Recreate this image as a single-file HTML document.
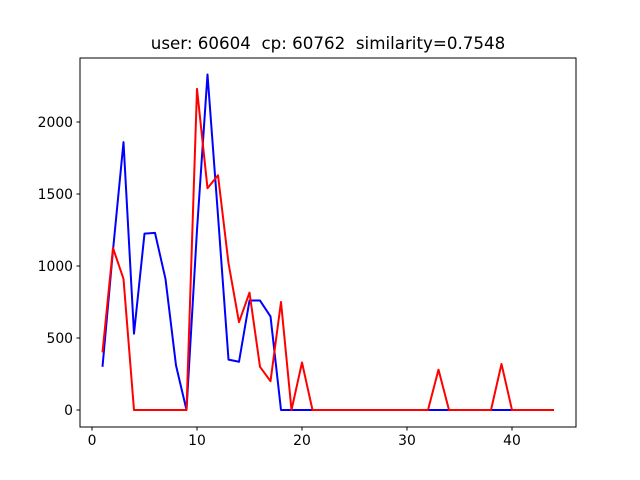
<!DOCTYPE html>
<html><head><meta charset="utf-8"><style>
html,body{margin:0;padding:0;background:#fff;}
svg{display:block;font-family:"DejaVu Sans","Liberation Sans",sans-serif;}
svg text{white-space:pre;}
</style></head><body>
<svg id="chart" width="640" height="480"></svg>
<script>
const xValues = [1,2,3,4,5,6,7,8,9,10,11,12,13,14,15,16,17,18,19,20,21,22,23,24,25,26,27,28,29,30,31,32,33,34,35,36,37,38,39,40,41,42,43,44];
const userSeries = [300,1110,1860,530,1225,1230,910,310,0,1250,2330,1350,350,335,760,760,650,0,0,0,0,0,0,0,0,0,0,0,0,0,0,0,0,0,0,0,0,0,0,0,0,0,0,0];
const cpSeries = [400,1125,910,0,0,0,0,0,0,2230,1540,1630,1020,610,815,300,200,750,0,330,0,0,0,0,0,0,0,0,0,0,0,0,280,0,0,0,0,0,320,0,0,0,0,0];
const xTicks = [0,10,20,30,40];
const yTicks = [0,500,1000,1500,2000];
const titleText = "user: 60604  cp: 60762  similarity=0.7548";

const NS = "http://www.w3.org/2000/svg";
const svg = document.getElementById('chart');
const L=80,R=576,T=58,B=427;
function xs(v){return 92 + v*10.5;}
function ys(v){return 410 - v*0.144;}
function mk(tag, attrs){const e=document.createElementNS(NS,tag);for(const k in attrs)e.setAttribute(k,attrs[k]);svg.appendChild(e);return e;}

function line(series, color, name){
  const p = mk('polyline',{points:series.map((v,i)=>xs(xValues[i])+','+ys(v)).join(' '),fill:'none',stroke:color,'stroke-width':2,'stroke-linejoin':'round'});
  
  
}
line(userSeries,'#0000ff','user-series-line');
line(cpSeries,'#ff0000','cp-series-line');

const frame = mk('rect',{x:L,y:T,width:R-L,height:B-T,fill:'none',stroke:'#000','stroke-width':1});



xTicks.forEach(t=>{
  mk('line',{x1:xs(t),x2:xs(t),y1:B,y2:B+3.5,stroke:'#000'});
  const tx = mk('text',{x:xs(t),y:B+18,'text-anchor':'middle','font-size':13.9,fill:'#000'});
  tx.textContent=t;
  
  
});
yTicks.forEach(t=>{
  mk('line',{x1:L-3.5,x2:L,y1:ys(t),y2:ys(t),stroke:'#000'});
  const tx = mk('text',{x:L-7,y:ys(t)+5,'text-anchor':'end','font-size':13.9,fill:'#000'});
  tx.textContent=t;
  
  
});
const title = mk('text',{x:328,y:49,'text-anchor':'middle','font-size':16.7,fill:'#000'});
title.setAttribute('xml:space','preserve');
title.textContent = titleText;


</script>
</body></html>
